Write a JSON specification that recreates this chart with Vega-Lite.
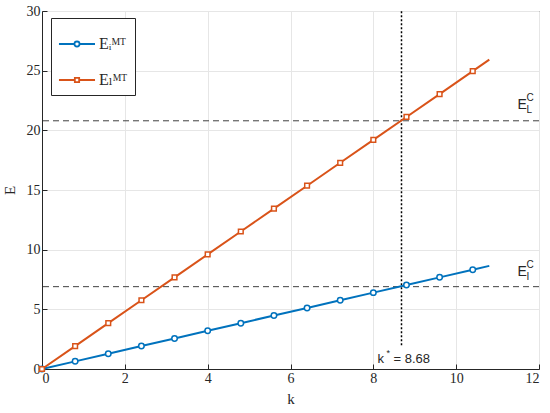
{
  "$schema": "https://vega.github.io/schema/vega-lite/v6.json",
  "width": 497,
  "height": 358,
  "autosize": {"type": "none"},
  "padding": {"left": 42, "top": 11, "right": 11, "bottom": 44},
  "background": "white",
  "config": {
    "view": {"stroke": "#262626", "strokeWidth": 1},
    "axis": {
      "domainColor": "#262626",
      "tickColor": "#262626",
      "tickSize": -5,
      "labelFont": "Liberation Serif",
      "labelFontSize": 14,
      "labelColor": "#262626",
      "titleFont": "Liberation Serif",
      "titleFontSize": 15,
      "titleFontWeight": "normal",
      "titleColor": "#262626",
      "gridColor": "#e6e6e6",
      "labelPadding": 7
    }
  },
  "datasets": {
    "series": [
      {"k": 0, "E": 0, "s": "I"},
      {"k": 0.8, "E": 0.64, "s": "I"},
      {"k": 1.6, "E": 1.28, "s": "I"},
      {"k": 2.4, "E": 1.92, "s": "I"},
      {"k": 3.2, "E": 2.56, "s": "I"},
      {"k": 4.0, "E": 3.2, "s": "I"},
      {"k": 4.8, "E": 3.84, "s": "I"},
      {"k": 5.6, "E": 4.48, "s": "I"},
      {"k": 6.4, "E": 5.12, "s": "I"},
      {"k": 7.2, "E": 5.76, "s": "I"},
      {"k": 8.0, "E": 6.4, "s": "I"},
      {"k": 8.8, "E": 7.04, "s": "I"},
      {"k": 9.6, "E": 7.68, "s": "I"},
      {"k": 10.4, "E": 8.32, "s": "I"},
      {"k": 10.8, "E": 8.64, "s": "I"},
      {"k": 0, "E": 0, "s": "L"},
      {"k": 0.8, "E": 1.92, "s": "L"},
      {"k": 1.6, "E": 3.84, "s": "L"},
      {"k": 2.4, "E": 5.76, "s": "L"},
      {"k": 3.2, "E": 7.68, "s": "L"},
      {"k": 4.0, "E": 9.6, "s": "L"},
      {"k": 4.8, "E": 11.52, "s": "L"},
      {"k": 5.6, "E": 13.44, "s": "L"},
      {"k": 6.4, "E": 15.36, "s": "L"},
      {"k": 7.2, "E": 17.28, "s": "L"},
      {"k": 8.0, "E": 19.2, "s": "L"},
      {"k": 8.8, "E": 21.12, "s": "L"},
      {"k": 9.6, "E": 23.04, "s": "L"},
      {"k": 10.4, "E": 24.96, "s": "L"},
      {"k": 10.8, "E": 25.92, "s": "L"}
    ],
    "hlines": [
      {"E": 6.9, "name": "I", "lk": 11.48, "lE": 7.8},
      {"E": 20.8, "name": "L", "lk": 11.48, "lE": 21.75}
    ],
    "vline": [
      {"k": 8.68, "E0": 2, "E1": 30, "lk": 8.1, "lE": 0.5}
    ]
  },
  "layer": [
    {
      "data": {"name": "hlines"},
      "mark": {"type": "rule", "strokeDash": [6, 4], "color": "#404040", "strokeWidth": 1},
      "encoding": {
        "y": {"field": "E", "type": "quantitative", "scale": {"domain": [0, 30]}, "axis": {"title": "E", "values": [0, 5, 10, 15, 20, 25, 30], "titlePadding": 9}}
      }
    },
    {
      "data": {"name": "vline"},
      "mark": {"type": "rule", "strokeDash": [2, 2], "color": "#000000", "strokeWidth": 1.5},
      "encoding": {
        "x": {"field": "k", "type": "quantitative", "scale": {"domain": [0, 12]}, "axis": {"title": "k", "values": [0, 2, 4, 6, 8, 10, 12], "titlePadding": 6}},
        "y": {"field": "E0", "type": "quantitative"},
        "y2": {"field": "E1"}
      }
    },
    {
      "data": {"name": "series"},
      "encoding": {
        "x": {"field": "k", "type": "quantitative"},
        "y": {"field": "E", "type": "quantitative"},
        "color": {
          "field": "s",
          "type": "nominal",
          "scale": {"domain": ["I", "L"], "range": ["#0072BD", "#D95319"]},
          "legend": {
            "title": null,
            "orient": "none",
            "legendX": 9,
            "legendY": 7,
            "direction": "vertical",
            "fillColor": "white",
            "strokeColor": "#262626",
            "padding": 7,
            "rowPadding": 9,
            "symbolSize": 1300,
            "symbolStrokeWidth": 1.8,
            "symbolFillColor": "white",
            "labelFont": "Liberation Serif, DejaVu Serif",
            "labelFontSize": 16,
            "labelColor": "#262626",
            "labelOffset": 3,
            "labelExpr": "datum.value == 'I' ? 'Eᵢᴹᵀ' : 'Eₗᴹᵀ'",
            "encode": {
              "symbols": {
                "update": {
                  "shape": {"signal": "datum.value == 'I' ? 'M-1,0H-0.14M0.14,0H1M0.14,0A0.14,0.14,0,1,1,-0.14,0A0.14,0.14,0,1,1,0.14,0Z' : 'M-1,0H-0.12M0.12,0H1M-0.12,-0.12H0.12V0.12H-0.12Z'"},
                  "fill": {"value": "white"},
                  "strokeWidth": {"value": 1.8}
                }
              }
            }
          }
        }
      },
      "layer": [
        {"mark": {"type": "line", "strokeWidth": 2}},
        {
          "transform": [{"filter": "datum.k <= 10.4 && datum.s == 'I'"}],
          "mark": {"type": "point", "shape": "circle", "filled": false, "fill": "white", "strokeWidth": 1.5, "opacity": 1, "size": 30}
        },
        {
          "transform": [{"filter": "datum.k <= 10.4 && datum.s == 'L'"}],
          "mark": {"type": "point", "shape": "square", "filled": false, "fill": "white", "strokeWidth": 1.5, "opacity": 1, "size": 22}
        }
      ]
    },
    {
      "data": {"name": "hlines"},
      "mark": {"type": "text", "font": "Liberation Sans", "fontSize": 14, "align": "left", "baseline": "alphabetic", "color": "#262626", "text": "E"},
      "encoding": {
        "x": {"field": "lk", "type": "quantitative"},
        "y": {"field": "lE", "type": "quantitative"}
      }
    },
    {
      "data": {"name": "hlines"},
      "mark": {"type": "text", "font": "Liberation Sans", "fontSize": 10, "align": "left", "baseline": "alphabetic", "color": "#262626", "text": "C", "dx": 9, "dy": -8},
      "encoding": {
        "x": {"field": "lk", "type": "quantitative"},
        "y": {"field": "lE", "type": "quantitative"}
      }
    },
    {
      "data": {"name": "hlines"},
      "mark": {"type": "text", "font": "Liberation Sans", "fontSize": 10, "align": "left", "baseline": "alphabetic", "color": "#262626", "dx": 9, "dy": 4},
      "encoding": {
        "x": {"field": "lk", "type": "quantitative"},
        "y": {"field": "lE", "type": "quantitative"},
        "text": {"field": "name"}
      }
    },
    {
      "data": {"name": "vline"},
      "mark": {"type": "text", "font": "Liberation Sans", "fontSize": 13, "align": "left", "baseline": "alphabetic", "color": "#262626", "text": "k"},
      "encoding": {
        "x": {"field": "lk", "type": "quantitative"},
        "y": {"field": "lE", "type": "quantitative"}
      }
    },
    {
      "data": {"name": "vline"},
      "mark": {"type": "text", "font": "Liberation Sans", "fontSize": 9, "align": "left", "baseline": "alphabetic", "color": "#262626", "text": "*", "dx": 9, "dy": -7},
      "encoding": {
        "x": {"field": "lk", "type": "quantitative"},
        "y": {"field": "lE", "type": "quantitative"}
      }
    },
    {
      "data": {"name": "vline"},
      "mark": {"type": "text", "font": "Liberation Sans", "fontSize": 13, "align": "left", "baseline": "alphabetic", "color": "#262626", "text": "= 8.68", "dx": 16},
      "encoding": {
        "x": {"field": "lk", "type": "quantitative"},
        "y": {"field": "lE", "type": "quantitative"}
      }
    }
  ]
}
